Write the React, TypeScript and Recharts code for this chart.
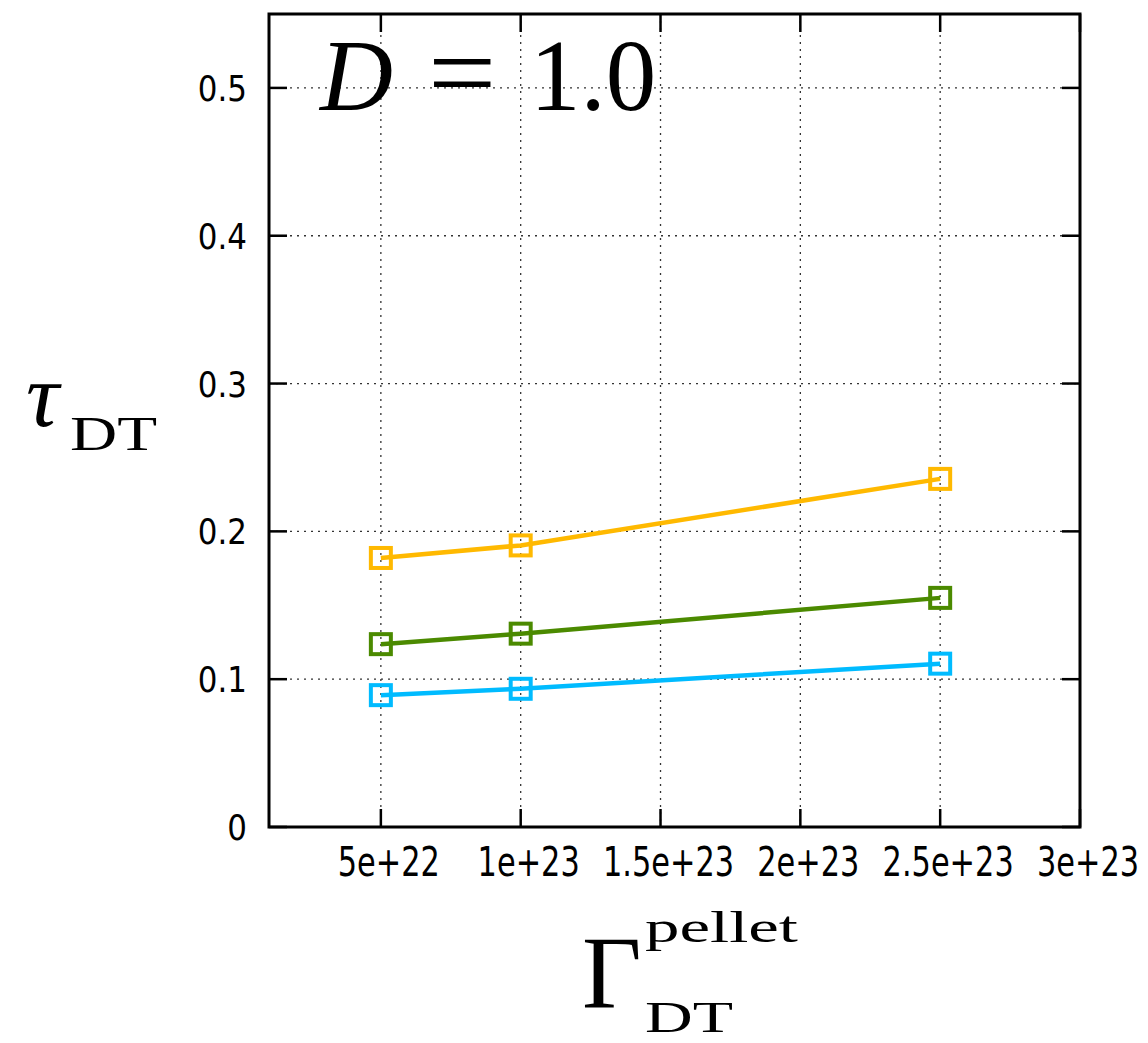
import React from 'react';
import { LineChart, Line, XAxis, YAxis, CartesianGrid, ReferenceArea } from 'recharts';

// Pellet fuelling rate (x) and DT confinement time for three scenarios
const gammaPellet = [5e22, 1e23, 2.5e23];
const tauYellow = [0.182, 0.1905, 0.2355];
const tauGreen = [0.1237, 0.1308, 0.155];
const tauBlue = [0.0892, 0.0935, 0.1105];

const xTicks = [5e22, 1e23, 1.5e23, 2e23, 2.5e23, 3e23];
const xTickLabels = ['5e+22', '1e+23', '1.5e+23', '2e+23', '2.5e+23', '3e+23'];
const yTicks = [0, 0.1, 0.2, 0.3, 0.4, 0.5];
const yTickLabels = ['0', '0.1', '0.2', '0.3', '0.4', '0.5'];

const COLORS = { yellow: '#FFB900', green: '#4B8A00', blue: '#00BBFF' };

const data = gammaPellet.map((g, i) => ({
  gamma: g,
  yellow: tauYellow[i],
  green: tauGreen[i],
  blue: tauBlue[i],
}));

const W = 1148;
const H = 1043;
const LEFT = 269;
const RIGHT = 1080;
const TOP = 14;
const BOTTOM = 827;
const TICK_LEN = 18;

const XTick = (props: any) => {
  const { x, payload } = props;
  const idx = xTicks.indexOf(payload.value);
  const label = idx >= 0 ? xTickLabels[idx] : '';
  return (
    <g>
      <line x1={x} x2={x} y1={BOTTOM} y2={BOTTOM - TICK_LEN} stroke="#000" strokeWidth={2.5} />
      <line x1={x} x2={x} y1={TOP} y2={TOP + TICK_LEN} stroke="#000" strokeWidth={2.5} />
      <g transform={`translate(${x + 8},876) scale(0.76,1)`}>
        <text x={0} y={0} textAnchor="middle" fontSize={40} fontFamily="DejaVu Sans" fill="#000">
          {label}
        </text>
      </g>
    </g>
  );
};

const YTick = (props: any) => {
  const { y, payload } = props;
  const idx = yTicks.findIndex((t) => Math.abs(t - payload.value) < 1e-9);
  const label = idx >= 0 ? yTickLabels[idx] : '';
  return (
    <g>
      <line x1={LEFT} x2={LEFT + TICK_LEN} y1={y} y2={y} stroke="#000" strokeWidth={2.5} />
      <line x1={RIGHT - TICK_LEN} x2={RIGHT} y1={y} y2={y} stroke="#000" strokeWidth={2.5} />
      <g transform={`translate(247,${y + 13}) scale(0.86,1)`}>
        <text x={0} y={0} textAnchor="end" fontSize={36} fontFamily="DejaVu Sans" fill="#000">
          {label}
        </text>
      </g>
    </g>
  );
};

const squareDot = (color: string) => (p: any) => (
  <rect
    key={`${color}-${p.index}`}
    x={p.cx - 10}
    y={p.cy - 10}
    width={20}
    height={20}
    fill="none"
    stroke={color}
    strokeWidth={4}
  />
);

export default function App() {
  return (
    <div style={{ position: 'absolute', left: 0, top: 0, width: W, height: H, background: '#fff' }}>
      <LineChart
        width={W}
        height={H}
        data={data}
        margin={{ top: TOP, right: W - RIGHT, left: 0, bottom: 0 }}
      >
        <CartesianGrid stroke="#333" strokeDasharray="2 5" strokeWidth={1.3} />
        <XAxis
          dataKey="gamma"
          type="number"
          domain={[1e22, 3e23]}
          ticks={xTicks}
          allowDataOverflow
          height={H - BOTTOM}
          axisLine={false}
          tickLine={false}
          tick={<XTick />}
          interval={0}
        />
        <YAxis
          type="number"
          domain={[0, 0.55]}
          ticks={yTicks}
          allowDataOverflow
          width={LEFT}
          axisLine={false}
          tickLine={false}
          tick={<YTick />}
          interval={0}
        />
        <ReferenceArea
          x1={1e22}
          x2={3e23}
          y1={0}
          y2={0.55}
          fill="none"
          fillOpacity={0}
          stroke="#000"
          strokeWidth={3}
          ifOverflow="visible"
        />
        <Line dataKey="yellow" stroke={COLORS.yellow} strokeWidth={4.5} dot={squareDot(COLORS.yellow)} isAnimationActive={false} />
        <Line dataKey="green" stroke={COLORS.green} strokeWidth={4.5} dot={squareDot(COLORS.green)} isAnimationActive={false} />
        <Line dataKey="blue" stroke={COLORS.blue} strokeWidth={4.5} dot={squareDot(COLORS.blue)} isAnimationActive={false} />
      </LineChart>
      <svg
        width={W}
        height={H}
        style={{ position: 'absolute', left: 0, top: 0, pointerEvents: 'none' }}
      >
        {/* panel title */}
        <text x={320} y={110} fontFamily="Liberation Serif" fontStyle="italic" fontSize={101} fill="#000">
          D
        </text>
        <g transform="translate(428,110) scale(1.2,1.1)">
          <text x={0} y={0} fontFamily="Liberation Serif" fontSize={101} fill="#000">=</text>
        </g>
        <text x={530} y={110} fontFamily="Liberation Serif" fontSize={101} fill="#000">
          1.0
        </text>
        {/* y-axis title */}
        <text x={26} y={426} fontFamily="Liberation Serif" fontStyle="italic" fontSize={92} fill="#000">
          τ
        </text>
        <text x={70} y={450} fontFamily="Liberation Serif" fontSize={48} fill="#000" textLength={87} lengthAdjust="spacingAndGlyphs">
          DT
        </text>
        {/* x-axis title */}
        <text x={582} y={1008} fontFamily="Liberation Serif" fontSize={103} fill="#000">
          Γ
        </text>
        <text x={645} y={942} fontFamily="Liberation Serif" fontSize={44} fill="#000" textLength={153} lengthAdjust="spacingAndGlyphs">
          pellet
        </text>
        <text x={645} y={1032} fontFamily="Liberation Serif" fontSize={44} fill="#000" textLength={88} lengthAdjust="spacingAndGlyphs">
          DT
        </text>
      </svg>
    </div>
  );
}
